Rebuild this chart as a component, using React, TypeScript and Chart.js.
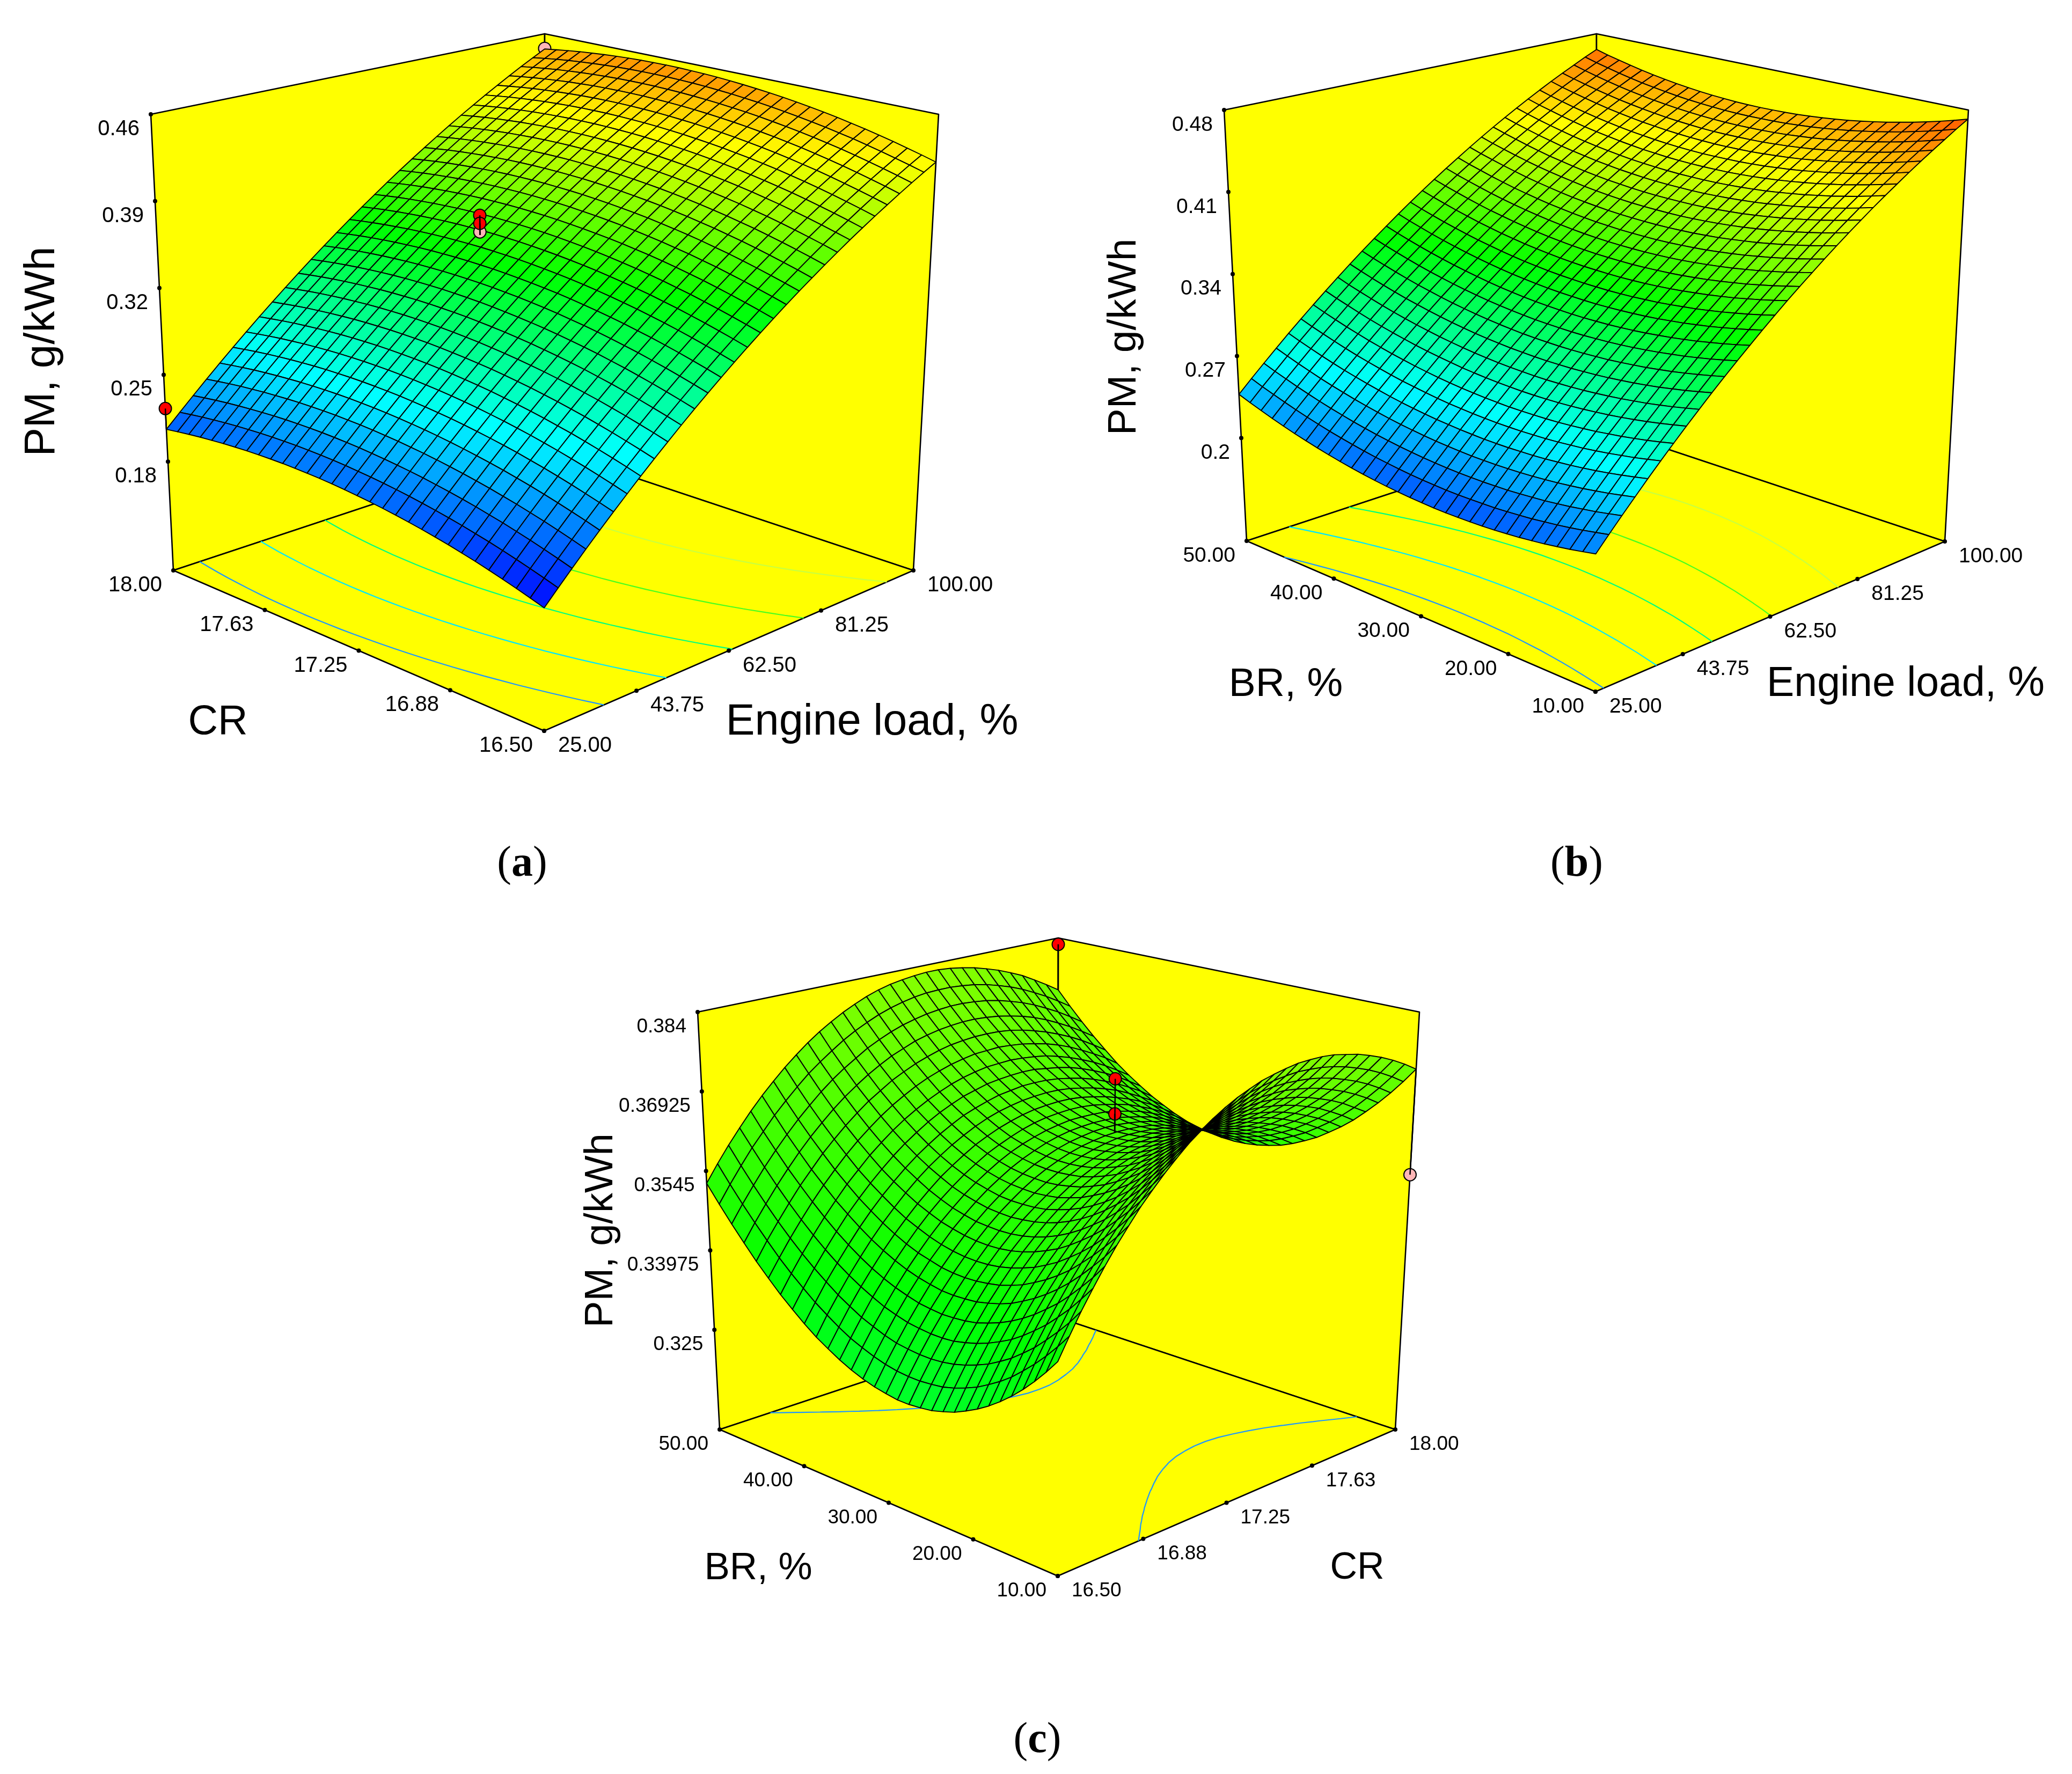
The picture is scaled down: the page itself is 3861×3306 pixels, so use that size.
import React, { useEffect, useRef } from "react";
import { Chart, registerables } from "chart.js";
Chart.register(...registerables);

// PM surface values in 1e-4 g/kWh. Row = CR 16.50..18.00, column = engine load 25..100
const PM_A = [
[1810,1915,2018,2120,2220,2318,2414,2509,2602,2693,2783,2871,2957,3041,3124,3205,3284,3362,3438,3512,3584,3655,3724,3792,3857,3921,3983,4044,4103,4160,4215],
[1842,1947,2050,2152,2252,2350,2446,2541,2634,2725,2815,2903,2989,3073,3156,3237,3316,3394,3470,3544,3616,3687,3756,3824,3889,3953,4015,4076,4135,4192,4247],
[1872,1977,2080,2182,2282,2380,2476,2571,2664,2755,2845,2933,3019,3103,3186,3267,3346,3424,3500,3574,3646,3717,3786,3854,3919,3983,4045,4106,4165,4222,4277],
[1901,2006,2109,2211,2311,2409,2505,2600,2693,2784,2874,2962,3048,3132,3215,3296,3375,3453,3529,3603,3675,3746,3815,3883,3948,4012,4074,4135,4194,4251,4306],
[1928,2033,2136,2238,2338,2436,2532,2627,2720,2811,2901,2989,3075,3159,3242,3323,3402,3480,3556,3630,3702,3773,3842,3910,3975,4039,4101,4162,4221,4278,4333],
[1954,2059,2162,2264,2364,2462,2558,2653,2746,2837,2927,3015,3101,3185,3268,3349,3428,3506,3582,3656,3728,3799,3868,3936,4001,4065,4127,4188,4247,4304,4359],
[1977,2082,2185,2287,2387,2485,2581,2676,2769,2860,2950,3038,3124,3208,3291,3372,3451,3529,3605,3679,3751,3822,3891,3959,4024,4088,4150,4211,4270,4327,4382],
[2000,2105,2208,2310,2410,2508,2604,2699,2792,2883,2973,3061,3147,3231,3314,3395,3474,3552,3628,3702,3774,3845,3914,3982,4047,4111,4173,4234,4293,4350,4405],
[2020,2125,2228,2330,2430,2528,2624,2719,2812,2903,2993,3081,3167,3251,3334,3415,3494,3572,3648,3722,3794,3865,3934,4002,4067,4131,4193,4254,4313,4370,4425],
[2039,2144,2247,2349,2449,2547,2643,2738,2831,2922,3012,3100,3186,3270,3353,3434,3513,3591,3667,3741,3813,3884,3953,4021,4086,4150,4212,4273,4332,4389,4444],
[2056,2161,2264,2366,2466,2564,2660,2755,2848,2939,3029,3117,3203,3287,3370,3451,3530,3608,3684,3758,3830,3901,3970,4038,4103,4167,4229,4290,4349,4406,4461],
[2072,2177,2280,2382,2482,2580,2676,2771,2864,2955,3045,3133,3219,3303,3386,3467,3546,3624,3700,3774,3846,3917,3986,4054,4119,4183,4245,4306,4365,4422,4477],
[2086,2191,2294,2396,2496,2594,2690,2785,2878,2969,3059,3147,3233,3317,3400,3481,3560,3638,3714,3788,3860,3931,4000,4068,4133,4197,4259,4320,4379,4436,4491],
[2098,2203,2306,2408,2508,2606,2702,2797,2890,2981,3071,3159,3245,3329,3412,3493,3572,3650,3726,3800,3872,3943,4012,4080,4145,4209,4271,4332,4391,4448,4503],
[2109,2214,2317,2419,2519,2617,2713,2808,2901,2992,3082,3170,3256,3340,3423,3504,3583,3661,3737,3811,3883,3954,4023,4091,4156,4220,4282,4343,4402,4459,4514],
[2118,2223,2326,2428,2528,2626,2722,2817,2910,3001,3091,3179,3265,3349,3432,3513,3592,3670,3746,3820,3892,3963,4032,4100,4165,4229,4291,4352,4411,4468,4523],
[2126,2231,2334,2436,2536,2634,2730,2825,2918,3009,3099,3187,3273,3357,3440,3521,3600,3678,3754,3828,3900,3971,4040,4108,4173,4237,4299,4360,4419,4476,4531],
[2132,2237,2340,2442,2542,2640,2736,2831,2924,3015,3105,3193,3279,3363,3446,3527,3606,3684,3760,3834,3906,3977,4046,4114,4179,4243,4305,4366,4425,4482,4537],
[2136,2241,2344,2446,2546,2644,2740,2835,2928,3019,3109,3197,3283,3367,3450,3531,3610,3688,3764,3838,3910,3981,4050,4118,4183,4247,4309,4370,4429,4486,4541],
[2139,2244,2347,2449,2549,2647,2743,2838,2931,3022,3112,3200,3286,3370,3453,3534,3613,3691,3767,3841,3913,3984,4053,4121,4186,4250,4312,4373,4432,4489,4544],
[2140,2245,2348,2450,2550,2648,2744,2839,2932,3023,3113,3201,3287,3371,3454,3535,3614,3692,3768,3842,3914,3985,4054,4122,4187,4251,4313,4374,4433,4490,4545],
[2139,2244,2347,2449,2549,2647,2743,2838,2931,3022,3112,3200,3286,3370,3453,3534,3613,3691,3767,3841,3913,3984,4053,4121,4186,4250,4312,4373,4432,4489,4544],
[2137,2242,2345,2447,2547,2645,2741,2836,2929,3020,3110,3198,3284,3368,3451,3532,3611,3689,3765,3839,3911,3982,4051,4119,4184,4248,4310,4371,4430,4487,4542],
[2133,2238,2341,2443,2543,2641,2737,2832,2925,3016,3106,3194,3280,3364,3447,3528,3607,3685,3761,3835,3907,3978,4047,4115,4180,4244,4306,4367,4426,4483,4538],
[2127,2232,2335,2437,2537,2635,2731,2826,2919,3010,3100,3188,3274,3358,3441,3522,3601,3679,3755,3829,3901,3972,4041,4109,4174,4238,4300,4361,4420,4477,4532],
[2120,2225,2328,2430,2530,2628,2724,2819,2912,3003,3093,3181,3267,3351,3434,3515,3594,3672,3748,3822,3894,3965,4034,4102,4167,4231,4293,4354,4413,4470,4525],
[2111,2216,2319,2421,2521,2619,2715,2810,2903,2994,3084,3172,3258,3342,3425,3506,3585,3663,3739,3813,3885,3956,4025,4093,4158,4222,4284,4345,4404,4461,4516],
[2101,2206,2309,2411,2511,2609,2705,2800,2893,2984,3074,3162,3248,3332,3415,3496,3575,3653,3729,3803,3875,3946,4015,4083,4148,4212,4274,4335,4394,4451,4506],
[2089,2194,2297,2399,2499,2597,2693,2788,2881,2972,3062,3150,3236,3320,3403,3484,3563,3641,3717,3791,3863,3934,4003,4071,4136,4200,4262,4323,4382,4439,4494],
[2075,2180,2283,2385,2485,2583,2679,2774,2867,2958,3048,3136,3222,3306,3389,3470,3549,3627,3703,3777,3849,3920,3989,4057,4122,4186,4248,4309,4368,4425,4480],
[2060,2165,2268,2370,2470,2568,2664,2759,2852,2943,3033,3121,3207,3291,3374,3455,3534,3612,3688,3762,3834,3905,3974,4042,4107,4171,4233,4294,4353,4410,4465],
];
// Row = BR 10..50, column = engine load 25..100
const PM_B = [
[2189,2300,2409,2516,2623,2726,2828,2928,3026,3123,3217,3310,3400,3490,3577,3663,3746,3827,3907,3985,4062,4136,4209,4279,4347,4415,4480,4543,4604,4665,4722],
[2167,2278,2386,2493,2599,2702,2803,2903,3001,3097,3191,3283,3373,3462,3549,3634,3718,3799,3878,3956,4032,4106,4178,4248,4316,4383,4448,4510,4571,4631,4688],
[2146,2257,2364,2471,2577,2679,2780,2880,2977,3073,3167,3258,3348,3437,3523,3608,3691,3771,3850,3928,4003,4077,4149,4218,4286,4353,4417,4479,4540,4599,4656],
[2128,2238,2346,2452,2557,2660,2760,2859,2956,3052,3145,3236,3326,3414,3500,3585,3667,3747,3825,3903,3978,4051,4123,4192,4259,4326,4390,4451,4511,4571,4627],
[2111,2221,2328,2434,2539,2641,2741,2840,2936,3031,3124,3215,3304,3392,3478,3562,3644,3724,3802,3879,3954,4027,4098,4166,4233,4299,4363,4424,4484,4543,4599],
[2097,2207,2313,2419,2523,2625,2725,2823,2920,3014,3107,3198,3286,3374,3459,3543,3625,3704,3782,3858,3933,4006,4076,4145,4211,4277,4341,4401,4461,4519,4575],
[2084,2193,2299,2405,2509,2610,2709,2808,2904,2998,3090,3181,3269,3356,3441,3525,3606,3685,3762,3838,3913,3985,4055,4123,4190,4255,4318,4378,4438,4496,4551],
[2074,2183,2289,2394,2498,2599,2697,2795,2891,2985,3077,3167,3255,3342,3427,3510,3590,3669,3746,3822,3896,3968,4038,4106,4172,4237,4299,4359,4418,4476,4531],
[2065,2174,2279,2384,2487,2588,2686,2784,2880,2973,3065,3154,3242,3328,3413,3496,3576,3655,3731,3807,3880,3952,4021,4089,4155,4219,4282,4341,4400,4457,4512],
[2058,2166,2271,2376,2479,2579,2677,2775,2870,2963,3054,3144,3231,3317,3401,3484,3564,3642,3718,3793,3867,3938,4007,4074,4140,4204,4266,4325,4384,4441,4495],
[2054,2162,2267,2371,2474,2574,2671,2768,2863,2956,3047,3136,3223,3309,3393,3475,3554,3632,3708,3783,3856,3927,3996,4063,4128,4192,4253,4312,4370,4427,4481],
[2051,2159,2263,2367,2469,2569,2667,2763,2858,2950,3041,3130,3216,3302,3385,3467,3547,3624,3700,3774,3847,3918,3986,4053,4117,4181,4243,4301,4359,4415,4469],
[2050,2157,2262,2365,2467,2567,2664,2760,2854,2947,3037,3125,3212,3297,3380,3462,3541,3618,3693,3768,3840,3910,3979,4045,4109,4173,4234,4292,4349,4406,4459],
[2051,2158,2262,2365,2467,2566,2663,2759,2853,2945,3035,3123,3209,3294,3377,3458,3537,3614,3689,3763,3835,3905,3973,4039,4103,4166,4227,4285,4342,4398,4451],
[2055,2162,2265,2368,2470,2569,2665,2761,2855,2946,3036,3124,3209,3294,3377,3458,3536,3613,3688,3761,3833,3903,3970,4036,4100,4163,4223,4281,4338,4393,4446],
[2060,2166,2270,2372,2474,2572,2669,2764,2857,2949,3038,3126,3211,3296,3378,3459,3537,3613,3688,3761,3833,3902,3970,4035,4098,4161,4221,4279,4335,4391,4443],
[2067,2173,2276,2378,2480,2578,2674,2769,2862,2953,3042,3129,3215,3299,3381,3461,3539,3615,3689,3763,3834,3903,3970,4035,4098,4160,4220,4278,4334,4389,4441],
[2076,2182,2285,2387,2487,2585,2681,2776,2869,2960,3049,3136,3220,3304,3386,3466,3544,3620,3694,3766,3837,3906,3973,4038,4101,4163,4223,4279,4335,4390,4442],
[2087,2193,2295,2397,2497,2595,2691,2785,2878,2968,3057,3144,3228,3312,3393,3473,3551,3626,3700,3772,3843,3912,3978,4043,4105,4167,4227,4283,4339,4393,4445],
[2100,2205,2308,2409,2509,2607,2702,2797,2889,2979,3068,3154,3238,3322,3403,3483,3560,3635,3709,3781,3851,3920,3986,4050,4113,4174,4234,4290,4345,4400,4451],
[2115,2220,2322,2423,2523,2621,2716,2810,2902,2992,3080,3166,3250,3333,3414,3494,3571,3646,3719,3791,3861,3929,3995,4059,4121,4183,4242,4298,4353,4407,4458],
[2132,2237,2339,2440,2539,2636,2731,2825,2917,3007,3095,3181,3264,3347,3428,3507,3584,3659,3732,3803,3873,3941,4007,4071,4133,4194,4253,4308,4363,4417,4468],
[2151,2256,2357,2458,2558,2654,2749,2842,2934,3024,3111,3197,3281,3363,3444,3523,3599,3674,3746,3818,3888,3955,4021,4085,4146,4207,4265,4321,4376,4429,4480],
[2172,2276,2378,2478,2578,2674,2768,2862,2953,3043,3130,3215,3299,3381,3462,3540,3616,3691,3763,3835,3904,3971,4037,4100,4162,4222,4280,4336,4390,4444,4494],
[2195,2299,2400,2501,2600,2696,2790,2883,2974,3064,3151,3236,3319,3401,3481,3560,3636,3710,3782,3853,3922,3990,4055,4118,4179,4239,4297,4353,4407,4460,4510],
[2219,2323,2424,2524,2623,2719,2813,2906,2997,3086,3173,3258,3341,3423,3503,3581,3656,3730,3802,3873,3942,4009,4074,4137,4198,4258,4316,4371,4425,4478,4528],
[2246,2350,2451,2550,2649,2745,2839,2931,3022,3111,3198,3282,3365,3447,3527,3605,3680,3754,3826,3897,3965,4032,4097,4160,4220,4280,4338,4393,4446,4499,4549],
[2275,2379,2479,2579,2677,2773,2866,2959,3050,3138,3225,3309,3392,3473,3553,3631,3706,3780,3851,3922,3990,4057,4121,4184,4245,4304,4362,4416,4470,4522,4572],
[2306,2409,2510,2609,2707,2803,2896,2989,3079,3167,3254,3338,3420,3502,3581,3659,3734,3807,3879,3949,4017,4084,4148,4210,4271,4330,4388,4442,4495,4548,4597],
[2338,2441,2541,2641,2739,2834,2927,3019,3109,3198,3284,3368,3450,3531,3610,3688,3763,3836,3907,3977,4045,4112,4176,4238,4298,4357,4414,4469,4522,4574,4623],
[2373,2476,2576,2675,2773,2868,2961,3053,3143,3231,3317,3401,3483,3564,3643,3720,3795,3868,3939,4009,4077,4143,4207,4269,4329,4388,4445,4499,4552,4604,4653],
];
// Row = BR 10..50, column = CR 16.50..18.00
const PM_C = [
[3427,3463,3498,3530,3561,3590,3617,3643,3666,3688,3708,3727,3743,3758,3771,3782,3791,3799,3804,3808,3811,3811,3810,3807,3801,3795,3786,3776,3764,3750,3734],
[3402,3438,3472,3505,3535,3564,3591,3617,3640,3662,3682,3700,3716,3731,3744,3755,3764,3772,3777,3781,3783,3784,3782,3779,3774,3767,3758,3748,3736,3722,3706],
[3379,3415,3449,3481,3512,3541,3568,3593,3616,3638,3658,3675,3692,3706,3719,3730,3739,3746,3752,3756,3758,3758,3756,3753,3748,3741,3732,3722,3710,3696,3680],
[3358,3394,3428,3460,3490,3519,3546,3571,3594,3615,3635,3653,3669,3683,3696,3707,3716,3723,3728,3732,3734,3734,3733,3729,3724,3717,3708,3698,3686,3672,3656],
[3339,3375,3408,3440,3470,3499,3526,3550,3573,3595,3614,3632,3648,3662,3675,3685,3694,3702,3707,3710,3712,3713,3711,3707,3702,3695,3686,3676,3664,3649,3634],
[3322,3357,3391,3423,3453,3481,3507,3532,3555,3576,3596,3613,3629,3643,3655,3666,3675,3682,3687,3691,3693,3693,3691,3687,3682,3675,3666,3656,3643,3629,3613],
[3307,3342,3375,3407,3437,3465,3491,3516,3539,3560,3579,3596,3612,3626,3638,3649,3657,3664,3670,3673,3675,3675,3673,3669,3664,3657,3648,3637,3625,3611,3595],
[3294,3329,3362,3393,3423,3451,3477,3501,3524,3545,3564,3581,3597,3611,3623,3633,3642,3649,3654,3657,3659,3659,3657,3653,3648,3641,3632,3621,3609,3595,3579],
[3283,3317,3350,3382,3411,3439,3465,3489,3511,3532,3551,3568,3584,3598,3610,3620,3628,3635,3640,3643,3645,3645,3643,3639,3634,3626,3617,3607,3594,3580,3564],
[3273,3308,3341,3372,3401,3428,3454,3478,3501,3521,3540,3557,3573,3586,3598,3608,3617,3623,3628,3631,3633,3633,3631,3627,3621,3614,3605,3594,3582,3568,3552],
[3266,3300,3333,3364,3393,3420,3446,3470,3492,3512,3531,3548,3563,3577,3589,3599,3607,3613,3618,3621,3623,3622,3620,3617,3611,3604,3594,3584,3571,3557,3541],
[3260,3294,3327,3358,3386,3414,3439,3463,3485,3505,3524,3541,3556,3569,3581,3591,3599,3606,3610,3613,3615,3614,3612,3608,3602,3595,3586,3575,3563,3548,3532],
[3257,3291,3323,3353,3382,3409,3435,3458,3480,3500,3519,3535,3550,3564,3575,3585,3593,3600,3604,3607,3608,3608,3606,3602,3596,3589,3579,3569,3556,3542,3526],
[3255,3289,3321,3351,3380,3407,3432,3455,3477,3497,3516,3532,3547,3560,3572,3581,3589,3596,3600,3603,3604,3604,3601,3597,3591,3584,3575,3564,3551,3537,3521],
[3255,3289,3321,3351,3379,3406,3431,3454,3476,3496,3514,3531,3545,3558,3570,3579,3587,3593,3598,3601,3602,3601,3599,3595,3589,3581,3572,3561,3548,3534,3518],
[3258,3291,3323,3353,3381,3407,3432,3455,3477,3497,3515,3531,3546,3559,3570,3579,3587,3593,3597,3600,3601,3600,3598,3594,3588,3580,3571,3560,3547,3533,3517],
[3262,3295,3326,3356,3384,3411,3435,3458,3480,3499,3517,3533,3548,3561,3572,3581,3589,3595,3599,3602,3603,3602,3599,3595,3589,3582,3572,3561,3549,3534,3518],
[3268,3301,3332,3362,3390,3416,3441,3463,3485,3504,3522,3538,3552,3565,3576,3585,3593,3599,3603,3605,3606,3605,3603,3598,3592,3585,3575,3564,3551,3537,3521],
[3276,3309,3340,3369,3397,3423,3447,3470,3491,3510,3528,3544,3558,3571,3582,3591,3598,3604,3608,3611,3611,3610,3608,3603,3597,3590,3580,3569,3556,3542,3526],
[3286,3318,3349,3379,3406,3432,3456,3479,3500,3519,3536,3552,3566,3579,3589,3598,3606,3612,3616,3618,3619,3618,3615,3610,3604,3597,3587,3576,3563,3549,3532],
[3298,3330,3361,3390,3417,3443,3467,3489,3510,3529,3547,3562,3576,3589,3599,3608,3615,3621,3625,3627,3628,3627,3624,3619,3613,3605,3596,3585,3572,3557,3541],
[3311,3344,3374,3403,3430,3456,3480,3502,3523,3542,3559,3574,3588,3600,3611,3620,3627,3632,3636,3638,3639,3638,3635,3630,3624,3616,3607,3595,3582,3568,3552],
[3327,3359,3390,3418,3445,3471,3495,3517,3537,3556,3573,3588,3602,3614,3625,3633,3640,3646,3649,3652,3652,3651,3648,3643,3637,3629,3619,3608,3595,3581,3564],
[3345,3377,3407,3435,3462,3488,3511,3533,3553,3572,3589,3604,3618,3630,3640,3649,3655,3661,3664,3666,3667,3666,3662,3658,3652,3644,3634,3623,3610,3595,3579],
[3364,3396,3426,3454,3481,3506,3530,3551,3572,3590,3607,3622,3635,3647,3657,3666,3673,3678,3682,3683,3684,3682,3679,3675,3668,3660,3650,3639,3626,3611,3595],
[3386,3417,3447,3475,3502,3527,3550,3572,3592,3610,3627,3642,3655,3667,3677,3685,3692,3697,3701,3702,3703,3701,3698,3693,3687,3679,3669,3657,3644,3630,3613],
[3409,3441,3470,3498,3525,3549,3573,3594,3614,3632,3649,3663,3677,3688,3698,3706,3713,3718,3721,3723,3723,3722,3719,3714,3707,3699,3689,3678,3665,3650,3634],
[3435,3466,3495,3523,3549,3574,3597,3618,3638,3656,3672,3687,3700,3712,3721,3730,3736,3741,3744,3746,3746,3744,3741,3736,3730,3722,3712,3700,3687,3672,3656],
[3462,3493,3522,3550,3576,3600,3623,3644,3664,3682,3698,3712,3726,3737,3747,3755,3761,3766,3769,3771,3771,3769,3766,3761,3754,3746,3736,3724,3711,3696,3680],
[3491,3522,3551,3579,3604,3629,3651,3672,3692,3709,3725,3740,3753,3764,3774,3782,3788,3793,3796,3797,3797,3795,3792,3787,3780,3772,3762,3750,3737,3722,3706],
[3522,3553,3582,3609,3635,3659,3681,3702,3721,3739,3755,3769,3782,3793,3803,3811,3817,3821,3824,3826,3826,3824,3820,3815,3808,3800,3790,3779,3765,3750,3734],
];

const PM_TICKS_A = [0.46, 0.39, 0.32, 0.25, 0.18];
const PM_TICKS_B = [0.48, 0.41, 0.34, 0.27, 0.2];
const PM_TICKS_C = [0.384, 0.36925, 0.3545, 0.33975, 0.325];
const LOAD_TICKS = [25, 43.75, 62.5, 81.25, 100];
const CR_TICKS = [16.5, 16.88, 17.25, 17.63, 18];
const BR_TICKS = [10, 20, 30, 40, 50];
const CONTOURS_AB = [0.226, 0.271, 0.316, 0.361, 0.408];
const CONTOURS_C = [0.3647];
const CONTOUR_COLORS = ["#1e96ff", "#00e6ff", "#00ff80", "#48ff20", "#c8ff40"];
const CONTOUR_COLORS_C = ["#1e96ff"];

const DESIGN_A = {
  cr: [18, 17.49, 17.49, 17.49, 18],
  load: [25, 61.75, 61.75, 61.75, 100],
  pm: [0.2228, 0.3536, 0.3672, 0.3606, 0.447],
  fit: [0.206, 0.351, 0.351, 0.351, 0.447],
  pink: [false, true, false, false, true],
};
const DESIGN_C = {
  cr: [18, 17.49, 17.49, 18],
  br: [50, 30, 30, 10],
  pm: [0.3827, 0.3702, 0.3636, 0.3538],
  fit: [0.3734, 0.3601, 0.3601, 0.3734],
  pink: [false, false, false, true],
};

type Pt = [number, number];
const PANELS: any[] = [
  {
    view: [0, 0, 1950, 1500], warp: 1.12, table: PM_A,
    F0: [1014, 1362], L0: [323, 1063], R0: [1702, 1063], B0: [1014, 834],
    F1: [1014, 412], L1: [281, 213], R1: [1749, 213], B1: [1015, 63],
    zMin: 0.0923, zTop: 0.46, zTicks: PM_TICKS_A, zFmt: ["0.46", "0.39", "0.32", "0.25", "0.18"],
    pRange: [16.5, 18], qRange: [25, 100], pTicks: CR_TICKS, qTicks: LOAD_TICKS,
    pFmt: ["16.50", "16.88", "17.25", "17.63", "18.00"], qFmt: ["25.00", "43.75", "62.50", "81.25", "100.00"],
    levels: CONTOURS_AB, levelColors: CONTOUR_COLORS, tickFont: 40,
    design: { p: DESIGN_A.cr, q: DESIGN_A.load, pm: DESIGN_A.pm, fit: DESIGN_A.fit, pink: DESIGN_A.pink, behind: [4] },
    titles: [["PM, g/kWh", 79, 655, 80, true], ["CR", 406, 1347, 77, false], ["Engine load, %", 1625, 1347, 81, false]],
  },
  {
    view: [1950, 0, 1911, 1500], warp: 1.1, table: PM_B,
    F0: [2973, 1289], L0: [2323, 1008], R0: [3624, 1009], B0: [2975, 793],
    F1: [2975, 404], L1: [2281, 205], R1: [3668, 205], B1: [2975, 63],
    zMin: 0.1122, zTop: 0.48, zTicks: PM_TICKS_B, zFmt: ["0.48", "0.41", "0.34", "0.27", "0.2"],
    pRange: [10, 50], qRange: [25, 100], pTicks: BR_TICKS, qTicks: LOAD_TICKS,
    pFmt: ["10.00", "20.00", "30.00", "40.00", "50.00"], qFmt: ["25.00", "43.75", "62.50", "81.25", "100.00"],
    levels: CONTOURS_AB, levelColors: CONTOUR_COLORS, tickFont: 39,
    design: null,
    titles: [["PM, g/kWh", 2095, 628, 75, true], ["BR, %", 2396, 1276, 75, false], ["Engine load, %", 3551, 1276, 77, false]],
  },
  {
    view: [1000, 1650, 1900, 1500], warp: 1, table: PM_C,
    F0: [1971, 2937], L0: [1341, 2664], R0: [2600, 2664], B0: [1971, 2455],
    F1: [1971, 2082], L1: [1300, 1886], R1: [2645, 1886], B1: [1972, 1748],
    zMin: 0.3065, zTop: 0.384, zTicks: PM_TICKS_C, zFmt: ["0.384", "0.36925", "0.3545", "0.33975", "0.325"],
    pRange: [10, 50], qRange: [16.5, 18], pTicks: BR_TICKS, qTicks: CR_TICKS,
    pFmt: ["10.00", "20.00", "30.00", "40.00", "50.00"], qFmt: ["16.50", "16.88", "17.25", "17.63", "18.00"],
    levels: CONTOURS_C, levelColors: CONTOUR_COLORS_C, tickFont: 37,
    design: { p: DESIGN_C.br, q: DESIGN_C.cr, pm: DESIGN_C.pm, fit: DESIGN_C.fit, pink: DESIGN_C.pink, behind: [] },
    titles: [["PM, g/kWh", 1121, 2293, 74, true], ["BR, %", 1413, 2923, 71, false], ["CR", 2529, 2923, 70, false]],
  },
];

const FONT = '"Liberation Sans", Arial, sans-serif';

function rainbow(z: number) {
  const n = Math.max(0, Math.min(1, (z - 0.18) / 0.32));
  let r = 0, g = 0, b = 0;
  if (n < 0.25) { g = n / 0.25; b = 1; }
  else if (n < 0.5) { g = 1; b = 1 - (n - 0.25) / 0.25; }
  else if (n < 0.75) { r = (n - 0.5) / 0.25; g = 1; }
  else { r = 1; g = 1 - (n - 0.75) / 0.25; }
  return `rgb(${Math.round(r * 255)},${Math.round(g * 255)},${Math.round(b * 255)})`;
}

function makeProjector(cfg: any) {
  const W = cfg.warp;
  const phi = (v: number) => (W * v) / (1 + (W - 1) * v);
  const bi = (a: Pt, b: Pt, c: Pt, d: Pt, P: number, Q: number): Pt => [
    (1 - P) * (1 - Q) * a[0] + P * (1 - Q) * b[0] + P * Q * c[0] + (1 - P) * Q * d[0],
    (1 - P) * (1 - Q) * a[1] + P * (1 - Q) * b[1] + P * Q * c[1] + (1 - P) * Q * d[1],
  ];
  return (p: number, q: number, z: number): { x: number; y: number } => {
    const P = phi(p), Q = phi(q);
    const r = (z - cfg.zMin) / (cfg.zTop - cfg.zMin);
    const f = bi(cfg.F0, cfg.L0, cfg.B0, cfg.R0, P, Q);
    const t = bi(cfg.F1, cfg.L1, cfg.B1, cfg.R1, P, Q);
    return { x: f[0] + (t[0] - f[0]) * r, y: f[1] + (t[1] - f[1]) * r };
  };
}

const lerp = (a: Pt, b: Pt, t: number): { x: number; y: number } => ({ x: a[0] + (b[0] - a[0]) * t, y: a[1] + (b[1] - a[1]) * t });

function buildChart(canvas: HTMLCanvasElement, cfg: any) {
  const proj = makeProjector(cfg);
  const N = cfg.table.length;
  const M = cfg.table[0].length;
  const surf: { x: number; y: number }[] = [];
  for (let i = 0; i < N; i++) for (let j = 0; j < M; j++) {
    surf.push(proj(i / (N - 1), j / (M - 1), cfg.table[i][j] / 1e4));
  }
  const cellOrder: [number, number][] = [];
  for (let i = 0; i < N - 1; i++) for (let j = 0; j < M - 1; j++) cellOrder.push([i, j]);
  cellOrder.sort((a, b) => b[0] + b[1] - (a[0] + a[1]));

  const frac = (v: number, rng: number[]) => (v - rng[0]) / (rng[1] - rng[0]);
  const zTickPts = cfg.zTicks.map((z: number) => lerp(cfg.L0, cfg.L1, frac(z, [cfg.zMin, cfg.zTop])));
  const pTickPts = cfg.pTicks.map((v: number) => lerp(cfg.F0, cfg.L0, frac(v, cfg.pRange)));
  const qTickPts = cfg.qTicks.map((v: number) => lerp(cfg.F0, cfg.R0, frac(v, cfg.qRange)));

  const datasets: any[] = [
    { label: "surface", data: surf, pointRadius: 0, showLine: false },
    {
      label: "ticks", data: [...zTickPts, ...pTickPts, ...qTickPts], pointRadius: 4,
      pointBackgroundColor: "#000", pointBorderWidth: 0, showLine: false, clip: false,
    },
  ];
  const markerPts: any[] = [];
  const d = cfg.design;
  if (d) {
    d.pm.forEach((pm: number, k: number) => {
      const p = frac(d.p[k], cfg.pRange), q = frac(d.q[k], cfg.qRange);
      const a = proj(p, q, pm), b = proj(p, q, d.fit[k]);
      markerPts.push({ pos: a, pink: d.pink[k], behind: d.behind.includes(k) });
      if (!d.behind.includes(k)) {
        datasets.push({ label: "stem", data: [a, b], showLine: true, pointRadius: 0, borderColor: "#000", borderWidth: 2.5, clip: false });
      }
    });
    const front = markerPts.filter((m) => !m.behind);
    datasets.push({
      label: "design", data: front.map((m) => m.pos), showLine: false, pointRadius: 11.5, clip: false,
      pointBackgroundColor: front.map((m) => (m.pink ? "#ffb6b6" : "#ff0000")), pointBorderColor: "#000", pointBorderWidth: 2,
    });
  }
  const [vx, vy, vw, vh] = cfg.view;

  const plugin = {
    id: "box3d",
    beforeDatasetsDraw(chart: any) {
      const ctx = chart.ctx;
      const sx = chart.scales.x, sy = chart.scales.y;
      const px = (a: any) => [sx.getPixelForValue(a.x), sy.getPixelForValue(a.y)];
      const cPx = (c: Pt) => [sx.getPixelForValue(c[0]), sy.getPixelForValue(c[1])];
      const poly = (pts: number[][], fill: boolean, close = true) => {
        ctx.beginPath();
        pts.forEach((q, k) => (k ? ctx.lineTo(q[0], q[1]) : ctx.moveTo(q[0], q[1])));
        if (close) ctx.closePath();
        if (fill) ctx.fill();
        ctx.stroke();
      };
      ctx.save();
      ctx.lineJoin = "round";
      ctx.strokeStyle = "#000";
      ctx.lineWidth = 2.6;
      ctx.fillStyle = "#ffff00";
      poly([cfg.L0, cfg.L1, cfg.B1, cfg.B0].map(cPx), true);
      poly([cfg.B0, cfg.B1, cfg.R1, cfg.R0].map(cPx), true);
      poly([cfg.F0, cfg.L0, cfg.B0, cfg.R0].map(cPx), true);
      // contours on the floor
      ctx.lineWidth = 2.2;
      cfg.levels.forEach((lv: number, li: number) => {
        ctx.strokeStyle = cfg.levelColors[li];
        const L = lv * 1e4;
        ctx.beginPath();
        for (let i = 0; i < N - 1; i++) for (let j = 0; j < M - 1; j++) {
          const c = [
            [i, j, cfg.table[i][j]], [i + 1, j, cfg.table[i + 1][j]],
            [i + 1, j + 1, cfg.table[i + 1][j + 1]], [i, j + 1, cfg.table[i][j + 1]],
          ];
          const hits: number[][] = [];
          for (let e = 0; e < 4; e++) {
            const A = c[e], B = c[(e + 1) % 4];
            if ((A[2] - L) * (B[2] - L) < 0) {
              const t = (L - A[2]) / (B[2] - A[2]);
              hits.push(px(proj((A[0] + (B[0] - A[0]) * t) / (N - 1), (A[1] + (B[1] - A[1]) * t) / (M - 1), cfg.zMin)));
            }
          }
          for (let h = 0; h + 1 < hits.length; h += 2) {
            ctx.moveTo(hits[h][0], hits[h][1]);
            ctx.lineTo(hits[h + 1][0], hits[h + 1][1]);
          }
        }
        ctx.stroke();
      });
      // markers hidden partly by the surface
      markerPts.filter((m) => m.behind).forEach((m) => {
        const q = px(m.pos);
        ctx.beginPath();
        ctx.arc(q[0], q[1], 11.5, 0, Math.PI * 2);
        ctx.fillStyle = m.pink ? "#ffb6b6" : "#ff0000";
        ctx.fill();
        ctx.strokeStyle = "#000";
        ctx.lineWidth = 2;
        ctx.stroke();
      });
      // surface quads, far to near
      const pts = chart.getDatasetMeta(0).data;
      ctx.strokeStyle = "#000";
      ctx.lineWidth = 1.9;
      cellOrder.forEach(([i, j]) => {
        const a = pts[i * M + j], b = pts[(i + 1) * M + j], c = pts[(i + 1) * M + j + 1], e = pts[i * M + j + 1];
        const z = (cfg.table[i][j] + cfg.table[i + 1][j] + cfg.table[i + 1][j + 1] + cfg.table[i][j + 1]) / 4e4;
        ctx.fillStyle = rainbow(z);
        ctx.beginPath();
        ctx.moveTo(a.x, a.y);
        ctx.lineTo(b.x, b.y);
        ctx.lineTo(c.x, c.y);
        ctx.lineTo(e.x, e.y);
        ctx.closePath();
        ctx.fill();
        ctx.stroke();
      });
      ctx.restore();
    },
    afterDatasetsDraw(chart: any) {
      const ctx = chart.ctx;
      const sx = chart.scales.x, sy = chart.scales.y;
      const X = (v: number) => sx.getPixelForValue(v), Y = (v: number) => sy.getPixelForValue(v);
      ctx.save();
      ctx.fillStyle = "#000";
      ctx.textBaseline = "middle";
      ctx.font = `${cfg.tickFont}px ${FONT}`;
      ctx.textAlign = "right";
      zTickPts.forEach((t: any, k: number) => ctx.fillText(cfg.zFmt[k], X(t.x - 21), Y(t.y + 28)));
      pTickPts.forEach((t: any, k: number) => ctx.fillText(cfg.pFmt[k], X(t.x - 21), Y(t.y + 28)));
      ctx.textAlign = "left";
      qTickPts.forEach((t: any, k: number) => ctx.fillText(cfg.qFmt[k], X(t.x + 26), Y(t.y + 28)));
      ctx.textAlign = "center";
      cfg.titles.forEach((t: any) => {
        ctx.font = `${t[3]}px ${FONT}`;
        ctx.save();
        ctx.translate(X(t[1]), Y(t[2]));
        if (t[4]) ctx.rotate(-Math.PI / 2);
        ctx.fillText(t[0], 0, 0);
        ctx.restore();
      });
      ctx.restore();
    },
  };

  return new Chart(canvas, {
    type: "scatter",
    data: { datasets },
    options: {
      responsive: false,
      animation: false,
      devicePixelRatio: 1,
      layout: { padding: 0, autoPadding: false },
      plugins: { legend: { display: false }, tooltip: { enabled: false }, title: { display: false } },
      scales: {
        x: { type: "linear", display: false, min: vx, max: vx + vw },
        y: { type: "linear", display: false, min: vy, max: vy + vh, reverse: true },
      },
    } as any,
    plugins: [plugin],
  } as any);
}

function Panel({ cfg }: { cfg: any }) {
  const ref = useRef<HTMLCanvasElement | null>(null);
  useEffect(() => {
    const chart = buildChart(ref.current as HTMLCanvasElement, cfg);
    return () => chart.destroy();
  }, [cfg]);
  const [x, y, w, h] = cfg.view;
  return <canvas ref={ref} width={w} height={h} style={{ position: "absolute", left: x, top: y, width: w, height: h }} />;
}

const CAPTIONS: [string, number, number][] = [["a", 973, 1605], ["b", 2938, 1605], ["c", 1933, 3238]];

export default function App() {
  return (
    <div style={{ position: "absolute", left: 0, top: 0, width: 3861, height: 3306, background: "#fff", overflow: "hidden" }}>
      {PANELS.map((cfg, i) => <Panel key={i} cfg={cfg} />)}
      {CAPTIONS.map(([t, x, y]) => (
        <div key={t} style={{ position: "absolute", left: x, top: y, transform: "translate(-50%,-50%)", font: '80px "Liberation Serif", serif', color: "#000" }}>
          (<b>{t}</b>)
        </div>
      ))}
    </div>
  );
}
